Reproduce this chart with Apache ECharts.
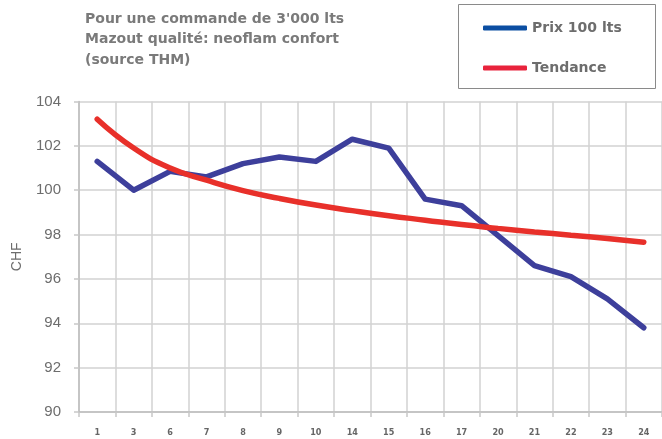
<!DOCTYPE html>
<html><head><meta charset="utf-8">
<script src="https://cdn.jsdelivr.net/npm/echarts@6/dist/echarts.min.js"></script>
<style>html,body{margin:0;padding:0;background:#fff}#c{width:662px;height:439px}</style>
</head><body><div id="c"></div>
<script>
const categories = ['1','3','6','7','8','9','10','14','15','16','17','20','21','22','23','24'];
const prix = [101.3,100.0,100.85,100.6,101.2,101.5,101.3,102.3,101.9,99.6,99.3,97.95,96.6,96.1,95.1,93.8];
const tendance = [103.2,101.9,101.0,100.45,99.98,99.63,99.33,99.08,98.85,98.65,98.45,98.28,98.12,97.97,97.82,97.65];
const yTicks = {min:90, max:104, interval:2};
const titleText = "Pour une commande de 3'000 lts\nMazout qualité: neoflam confort\n(source THM)";

const chart = echarts.init(document.getElementById('c'), null, {renderer:'canvas'});
chart.setOption({
  animation:false,
  backgroundColor:'#fff',
  title:{text:titleText,left:85,top:9,padding:0,textStyle:{fontFamily:'DejaVu Sans',fontWeight:'bold',fontSize:14,color:'#7a7a7a',lineHeight:20.5}},
  graphic:[{type:'rect',shape:{x:458.5,y:4.5,width:197,height:84},style:{fill:'none',stroke:'#8a8a8a',lineWidth:1}}],
  legend:{orient:'vertical',left:483,top:21,padding:0,itemWidth:44,itemHeight:5,itemGap:26,icon:'roundRect',
    textStyle:{fontFamily:'DejaVu Sans',fontWeight:'bold',fontSize:14,color:'#6d6d6d',padding:[0,0,0,0]},
    data:[{name:'Prix 100 lts',itemStyle:{color:'#0b4ea2'}},{name:'Tendance',itemStyle:{color:'#e8233c'}}]},
  grid:{left:79,right:-9,top:101.5,bottom:27,containLabel:false},
  xAxis:{type:'category',data:categories,boundaryGap:true,
    axisLine:{lineStyle:{color:'#bdbdbd',width:1.5}},
    axisTick:{show:true,length:5,lineStyle:{color:'#c8c8c8',width:1.5}},
    axisLabel:{margin:16,fontFamily:'DejaVu Sans Condensed, Liberation Sans, sans-serif',fontWeight:'bold',fontSize:9,color:'#666'},
    splitLine:{show:true,lineStyle:{color:'#d2d2d2',width:1.5}}},
  yAxis:{type:'value',min:yTicks.min,max:yTicks.max,interval:yTicks.interval,
    name:'CHF',nameLocation:'middle',nameGap:55,nameRotate:90,
    nameTextStyle:{fontFamily:'Liberation Sans',fontSize:14,color:'#6d6d6d'},
    axisLine:{show:true,lineStyle:{color:'#bdbdbd',width:1.5}},
    axisTick:{show:true,length:5,lineStyle:{color:'#c8c8c8',width:1.5}},
    axisLabel:{margin:18,fontFamily:'Liberation Sans',fontSize:15,color:'#6d6d6d'},
    splitLine:{show:true,lineStyle:{color:'#d2d2d2',width:1.5}}},
  series:[
    {name:'Prix 100 lts',type:'line',data:prix,symbol:'none',lineStyle:{color:'#3d3f9b',width:5.5,cap:'round',join:'round'},itemStyle:{color:'#3d3f9b'},z:3},
    {name:'Tendance',type:'line',data:tendance,symbol:'none',smooth:true,lineStyle:{color:'#e8302a',width:5.5,cap:'round'},itemStyle:{color:'#e8302a'},z:4}
  ]
});
</script></body></html>
